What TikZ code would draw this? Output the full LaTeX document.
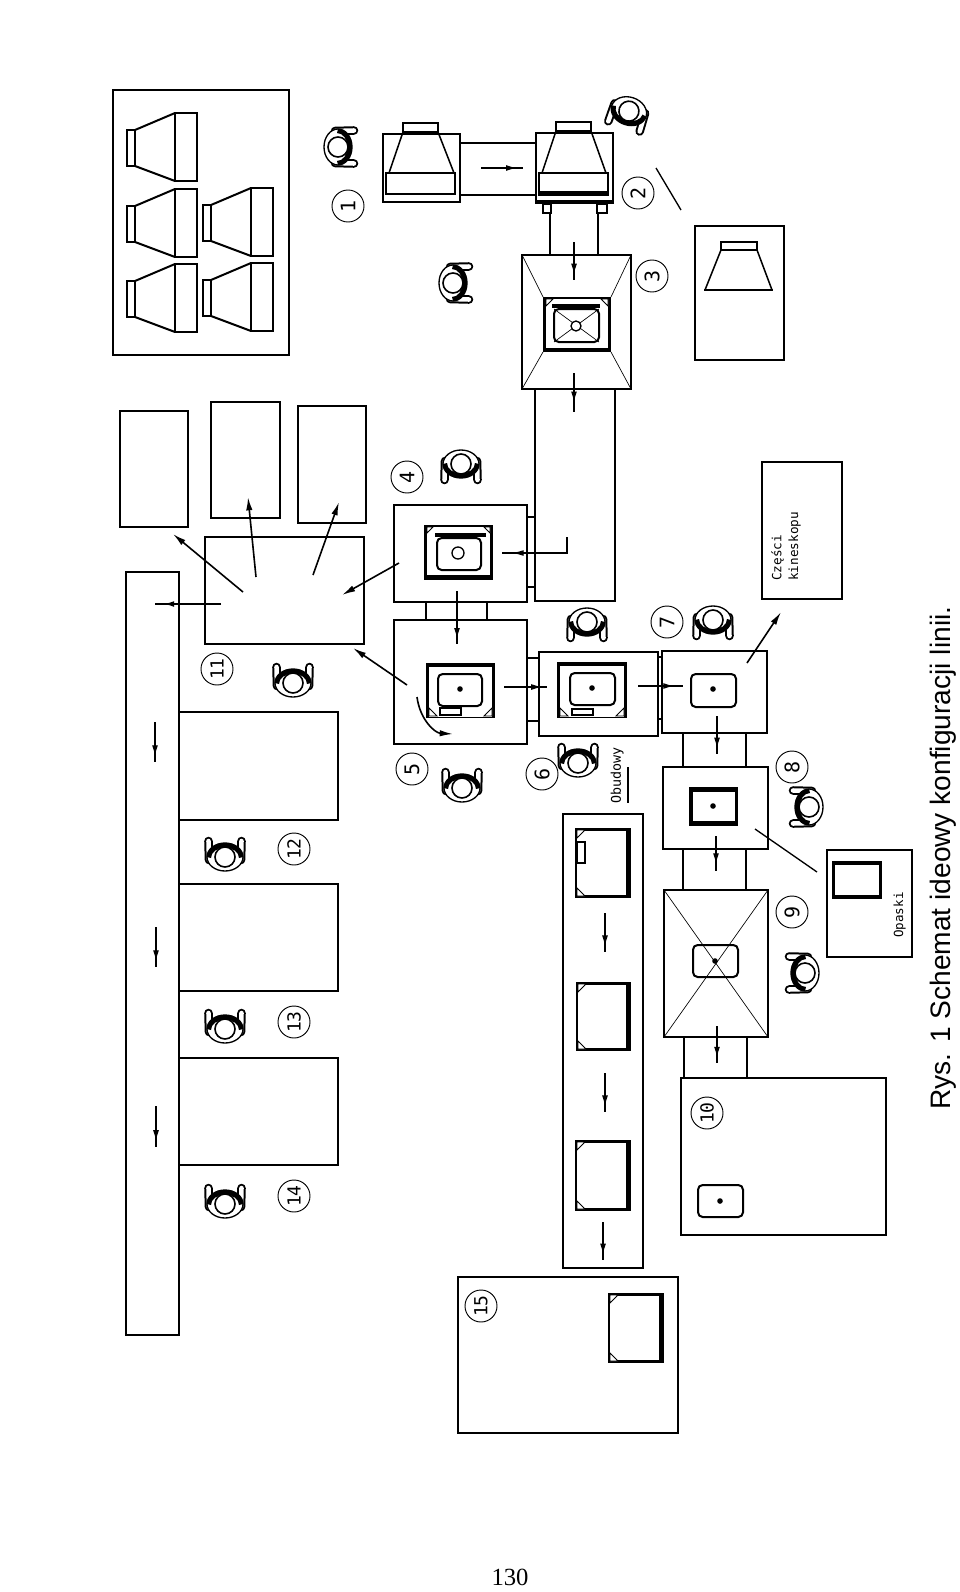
\documentclass[tikz,border=0pt]{standalone}
\usepackage{fontspec}
\setmainfont{Liberation Serif}
\newfontfamily\capfont{Liberation Sans}
\newfontfamily\cadfont{DejaVu Sans Mono}
\usetikzlibrary{arrows.meta,decorations.markings}
\tikzset{
  bx/.style={draw=black,line width=1.15pt},
  bxthin/.style={draw=black,line width=0.9pt},
  bxthick/.style={draw=black,line width=1.5pt},
  thinln/.style={draw=black,line width=0.5pt},
  arrline/.style={draw=black,line width=0.9pt},
  tipend/.style={draw=black,line width=1.2pt,-{Latex[length=10pt,width=4.8pt]}},
  tipmid/.style={draw=black,line width=0.8pt,postaction={decorate},
    decoration={markings,mark=at position #1 with {\arrow{Latex[length=8pt,width=4.4pt]}}}},
  tipmid/.default=0.8,
  numlbl/.style={draw=black,circle,line width=0.7pt,minimum size=24pt,inner sep=0pt,rotate=90,
    font=\cadfont\fontsize{15pt}{15pt}\selectfont},
  numlblb/.style={numlbl,font=\cadfont\fontsize{13.5pt}{13.5pt}\selectfont},
  cadtext/.style={rotate=90,inner sep=0pt,font=\cadfont\fontsize{9.5pt}{11pt}\selectfont},
}
% person facing screen-down when rotation is 0
\newcommand{\person}[3]{%
  \begin{scope}[shift={(#1,#2)},rotate=#3]
    \draw[line width=6.4pt,line cap=round] (-16,-6) -- (-16.5,13);
    \draw[line width=6.4pt,line cap=round] (16,-6) -- (16.5,13);
    \draw[white,line width=3.4pt,line cap=round] (-16,-6) -- (-16.5,13);
    \draw[white,line width=3.4pt,line cap=round] (16,-6) -- (16.5,13);
    \draw[fill=white,line width=1pt] (0,-3) ellipse [x radius=18,y radius=14];
    \fill[black] (-18,-3) arc[start angle=180,end angle=0,x radius=18,y radius=14]
       -- (14,-4) arc[start angle=0,end angle=180,x radius=14,y radius=10.5] -- cycle;
    \draw[fill=white,line width=1.2pt] (0,-3) circle[radius=10];
  \end{scope}}
% cone lying on its side, neck to the left
\newcommand{\conex}[2]{%
  \draw[bxthick] (#1,#2+17) rectangle (#1+8,#2+53);
  \draw[bxthick] (#1+48,#2) rectangle (#1+70,#2+68);
  \draw[bxthick] (#1+8,#2+17) -- (#1+48,#2);
  \draw[bxthick] (#1+8,#2+53) -- (#1+48,#2+68);}
% framed tube: x0 y0 x1 y1, border top right bottom left
\newcommand{\tvframe}[8]{%
  \fill[black] (#1,#2) rectangle (#3,#4);
  \fill[white] (#1+#8,#2+#5) rectangle (#3-#6,#4-#7);}
\newcommand{\ctri}[4]{\draw[fill=white,line width=0.7pt] (#1,#2) -- ++(#3,0) -- ++(-#3,#4) -- cycle;}
\newcommand{\crt}[4]{\draw[bxthick,rounded corners=3.5pt] (#1,#2) rectangle (#3,#4);}
\begin{document}
\begin{tikzpicture}[x=0.75pt,y=-0.75pt]
\useasboundingbox (0,0) rectangle (960,1592);
\fill[white] (0,0) rectangle (960,1592);

% storage box of cones
\draw[bxthick] (113,90) rectangle (289,355);
\conex{127}{113} \conex{127}{189} \conex{127}{264} \conex{203}{188} \conex{203}{263}

% machine 1
\draw[bx] (383,134) rectangle (460,202);
\draw[bxthick] (403,123) rectangle (438,132);
\draw[bx] (403,132) -- (389,173) (438,132) -- (454,173);
\draw[bxthick] (386,173) rectangle (455,194);
% conveyor 1-2
\draw[bx] (460,143) -- (536,143) (460,195) -- (536,195);
\draw[tipmid=0.85] (481,168) -- (523,168);
% machine 2
\draw[bx] (536,133) rectangle (613,203);
\draw[bxthick] (556,122) rectangle (591,131);
\draw[bx] (556,131) -- (542,173) (591,131) -- (606,173);
\draw[bx] (539,173) rectangle (608,195);
\fill[black] (539,191) rectangle (608,196);
\fill[black] (536,200) rectangle (613,204);
\draw[bx] (543,204) rectangle (551,213) (597,204) rectangle (607,213);
% conveyor 2-3
\draw[bx] (550,213) -- (550,255) (598,213) -- (598,255);
\draw[tipmid=0.85] (574,242) -- (574,280);
% machine 3
\draw[bx] (522,255) rectangle (631,389);
\draw[thinln] (522,255) -- (543,297) (631,255) -- (611,297) (522,389) -- (543,352) (631,389) -- (611,352);
\tvframe{543}{297}{611}{352}{2}{3}{4}{3}
\ctri{546}{299}{7}{7}
\begin{scope}[xscale=-1,shift={(-1154,0)}]\ctri{546}{299}{7}{7}\end{scope}
\fill[black] (552,304) rectangle (600,307.5);
\crt{554}{309}{599}{342}
\draw[thinln] (554,309) -- (599,342) (599,309) -- (554,342);
\draw[fill=white,line width=1pt] (576,326) circle[radius=5];
\draw[tipmid=0.75] (574,373) -- (574,412);
% bin at 2
\draw[bx] (695,226) rectangle (784,360);
\draw[bxthick] (721,242) rectangle (757,250);
\draw[bx] (721,250) -- (705,290) (757,250) -- (772,290);
\draw[bxthick] (704,290) -- (773,290);
\draw[line width=1pt] (656,168) -- (681,210);
% conveyor 3-4
\draw[bx] (535,389) -- (535,601) -- (615,601) -- (615,389);
\draw[bx] (527,517) -- (535,517) (527,587) -- (535,587);
\draw[line width=1pt,postaction={decorate},decoration={markings,mark=at position 0.88 with {\arrow{Latex[length=9pt,width=4.4pt]}}}] (567,537) -- (567,553) -- (502,553);

% machine 4
\draw[bx] (394,505) rectangle (527,602);
\tvframe{424}{525}{493}{580}{1.5}{3}{5}{3}
\ctri{427}{527}{6}{6}
\begin{scope}[xscale=-1,shift={(-917,0)}]\ctri{427}{527}{6}{6}\end{scope}
\fill[black] (435,533) rectangle (486,537);
\crt{437}{538}{481}{570}
\draw[line width=1pt] (458,553) circle[radius=6];
% conveyor 4-5
\draw[bx] (426,602) -- (426,620) (487,602) -- (487,620);
\draw[tipmid=0.9] (457,591) -- (457,644);
% machine 5
\draw[bx] (394,620) rectangle (527,744);
\tvframe{426}{663}{495}{718}{4}{3}{1.5}{3}
\crt{438}{674}{482}{706}
\fill (460,689) circle[radius=2.8];
\draw[bx] (440,708) rectangle (461,715);
\draw[fill=white,line width=0.7pt] (429,716) -- (429,708) -- (437,716) -- cycle;
\draw[fill=white,line width=0.7pt] (492,716) -- (492,708) -- (484,716) -- cycle;
\draw[tipend] (417,697) .. controls (420,720) and (435,733) .. (453,734);
% conveyor 5-6
\draw[bx] (527,658) -- (539,658) (527,721) -- (539,721);
\draw[tipmid=0.88] (504,687) -- (547,687);
% machine 6
\draw[bx] (539,652) rectangle (658,736);
\tvframe{557}{662}{627}{718}{4}{3}{1.5}{3}
\crt{570}{673}{615}{705}
\fill (592,688) circle[radius=2.8];
\draw[bx] (572,709) rectangle (593,715);
\draw[fill=white,line width=0.7pt] (560,716) -- (560,708) -- (568,716) -- cycle;
\draw[fill=white,line width=0.7pt] (624,716) -- (624,708) -- (616,716) -- cycle;
% conveyor 6-7
\draw[bx] (658,657) -- (662,657) (658,719) -- (662,719);
\draw[tipmid=0.8] (638,686) -- (683,686);
% machine 7
\draw[bx] (662,651) rectangle (767,733);
\crt{691}{674}{736}{707}
\fill (713,689) circle[radius=2.8];
\draw[tipend] (747,663) -- (781,612);
% parts box
\draw[bx] (762,462) rectangle (842,599);
\node[cadtext,anchor=south west] (czesci) at (784,581) {Części};
\node[cadtext,anchor=south west] (kines) at (801,581) {kineskopu};
% conveyor 7-8
\draw[bx] (683,733) -- (683,767) (746,733) -- (746,767);
\draw[tipmid=0.85] (717,716) -- (717,754);
% machine 8
\draw[bx] (663,767) rectangle (768,849);
\tvframe{689}{787}{738}{826}{4.5}{3.5}{5}{3.5}
\fill (713,806) circle[radius=2.8];
\draw[line width=1pt] (755,829) -- (817,872);
% conveyor 8-9
\draw[bx] (683,849) -- (683,890) (746,849) -- (746,890);
\draw[tipmid=0.8] (716,836) -- (716,871);
% machine 9
\draw[bx] (664,890) rectangle (768,1037);
\draw[thinln] (664,890) -- (768,1037) (768,890) -- (664,1037);
\crt{693}{945}{738}{977}
\fill (715,961) circle[radius=2.8];
% conveyor 9-10
\draw[bx] (684,1037) -- (684,1078) (747,1037) -- (747,1078);
\draw[tipmid=0.85] (717,1026) -- (717,1063);
% machine 10
\draw[bx] (681,1078) rectangle (886,1235);
\crt{698}{1185}{743}{1217}
\fill (720,1201) circle[radius=2.8];
% bands box
\draw[bx] (827,850) rectangle (912,957);
\tvframe{832}{861}{882}{899}{4}{3}{4}{3}
\node[cadtext,anchor=south,font=\cadfont\fontsize{9.4pt}{10pt}\selectfont] (opaski) at (906,915) {Opaski};

% housing conveyor
\draw[bx] (563,814) rectangle (643,1268);
\tvframe{575}{828}{631}{898}{3}{5}{3}{1.5}
\draw[fill=white,line width=0.7pt] (577,830) -- (585,830) -- (577,838) -- cycle;
\draw[fill=white,line width=0.7pt] (577,896) -- (585,896) -- (577,888) -- cycle;
\draw[bx] (577,842) rectangle (585,863);
\tvframe{576}{982}{631}{1051}{3}{5}{3}{1.5}
\draw[fill=white,line width=0.7pt] (578,984) -- (586,984) -- (578,992) -- cycle;
\draw[fill=white,line width=0.7pt] (578,1049) -- (586,1049) -- (578,1041) -- cycle;
\tvframe{575}{1140}{631}{1211}{3}{5}{3}{1.5}
\draw[fill=white,line width=0.7pt] (577,1142) -- (585,1142) -- (577,1150) -- cycle;
\draw[fill=white,line width=0.7pt] (577,1209) -- (585,1209) -- (577,1201) -- cycle;
\draw[tipmid=0.85] (605,913) -- (605,952);
\draw[tipmid=0.85] (605,1073) -- (605,1112);
\draw[tipmid=0.85] (603,1222) -- (603,1260);
\node[cadtext,anchor=south west,font=\cadfont\fontsize{10pt}{10pt}\selectfont] (obud) at (624,804) {Obudowy};
\draw[line width=1pt] (628,767) -- (628,803);

% machine 15
\draw[bx] (458,1277) rectangle (678,1433);
\tvframe{608}{1293}{664}{1363}{3}{5}{3}{1.5}
\draw[fill=white,line width=0.7pt] (610,1295) -- (618,1295) -- (610,1303) -- cycle;
\draw[fill=white,line width=0.7pt] (610,1361) -- (618,1361) -- (610,1353) -- cycle;

% boxes at the top
\draw[bx] (120,411) rectangle (188,527);
\draw[bx] (211,402) rectangle (280,518);
\draw[bx] (298,406) rectangle (366,523);
% machine 11
\draw[bx] (205,537) rectangle (364,644);
\draw[tipend] (243,592) -- (173,534);
\draw[tipend] (256,577) -- (248,497);
\draw[tipend] (313,575) -- (339,502);
\draw[tipend] (399,563) -- (342,595);
\draw[tipend] (407,685) -- (353,648);
\draw[tipmid=0.87,line width=1.1pt] (221,604) -- (155,604);
% long conveyor
\draw[bx] (126,572) rectangle (179,1335);
\draw[bx] (179,712) rectangle (338,820);
\draw[bx] (179,884) rectangle (338,991);
\draw[bx] (179,1058) rectangle (338,1165);
\draw[tipmid=0.85] (155,722) -- (155,762);
\draw[tipmid=0.85] (156,927) -- (156,967);
\draw[tipmid=0.85] (156,1106) -- (156,1147);

% operators
\person{341}{147}{90}
\person{628}{114}{-18}
\person{456}{283}{90}
\person{461}{467}{0}
\person{462}{785}{180}
\person{587}{625}{0}
\person{578}{760}{180}
\person{713}{623}{0}
\person{806}{807}{-90}
\person{802}{973}{-90}
\person{293}{680}{180}
\person{225}{854}{180}
\person{225}{1026}{180}
\person{225}{1201}{180}

% numbers
\node[numlbl] (n1) at (348,206) {1};
\node[numlbl] (n2) at (638,193) {2};
\node[numlbl] (n3) at (652,276) {3};
\node[numlbl] (n4) at (407,477) {4};
\node[numlbl] (n5) at (412,769) {5};
\node[numlbl] (n6) at (542,774) {6};
\node[numlbl] (n7) at (667,622) {7};
\node[numlbl] (n8) at (792,767) {8};
\node[numlbl] (n9) at (792,912) {9};
\node[numlblb] (n10) at (707,1113) {10};
\node[numlblb] (n11) at (217,669) {11};
\node[numlblb] (n12) at (294,849) {12};
\node[numlblb] (n13) at (294,1022) {13};
\node[numlblb] (n14) at (294,1196) {14};
\node[numlblb] (n15) at (481,1306) {15};

% caption
\node[rotate=90,inner sep=0pt,anchor=center,font=\capfont\fontsize{21.1pt}{21.1pt}\selectfont] (cap) at (943,858) {Rys. 1 Schemat ideowy konfiguracji linii.};
\node[inner sep=0pt,font=\rmfamily\fontsize{18.5pt}{18.5pt}\selectfont] (page) at (510,1577) {130};
\end{tikzpicture}
\end{document}
